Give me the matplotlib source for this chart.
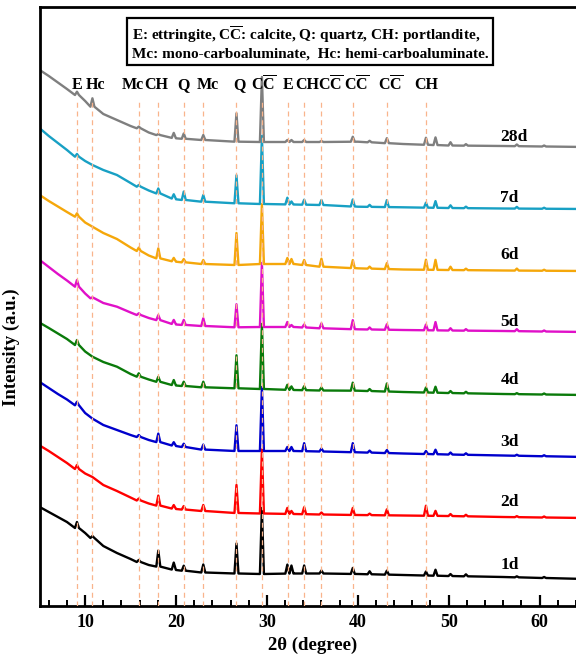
import numpy as np
import matplotlib
matplotlib.use("Agg")
import matplotlib.pyplot as plt
from matplotlib.ticker import MultipleLocator, NullLocator

plt.rcParams['font.family'] = ['Liberation Serif', 'DejaVu Serif']
plt.rcParams['font.weight'] = 'bold'
plt.rcParams['mathtext.fontset'] = 'custom'
plt.rcParams['mathtext.rm'] = 'Liberation Serif:bold'
plt.rcParams['mathtext.bf'] = 'Liberation Serif:bold'

# ---------------- data ----------------
series_names = ['1d', '2d', '3d', '4d', '5d', '6d', '7d', '28d']
series_colors = ['#000000', '#ff0000', '#0000cc', '#0a7a0a', '#e010c8', '#f5a70a', '#18a0c4', '#7f7f7f']
offsets = [27, 88, 149, 211, 274, 335, 397, 459]

bg_theta = [5, 6, 7, 8, 9.1, 10, 10.8, 12, 13.5, 15, 15.9, 17, 18, 20, 23, 26.7, 29.5, 33, 36, 40, 45, 50, 56, 65]
bg_1d = [72, 67, 62, 57, 51, 46, 41, 33, 26, 20, 17, 14, 12.5, 9, 6.5, 5.5, 5, 5.5, 5.5, 5, 4, 3, 2, 0]
bg_2d = [72.5, 67, 61, 55, 49, 44.5, 41, 33, 27, 20.5, 17.5, 14.5, 12.5, 9, 7, 5, 4.5, 4, 3.5, 3, 2.5, 2, 1, 0]
bg_3d = [75, 69, 63, 57.5, 51.7, 44, 38.4, 32, 27, 22, 20, 17, 15, 11, 7.4, 6, 6, 6, 5.5, 4.7, 3.5, 2.5, 1.5, 0]
bg_4d = [72.3, 67, 61.5, 56, 50, 43.5, 38.3, 33, 28.3, 21, 18.3, 15.5, 13.3, 9.5, 7.7, 6.7, 6, 5, 4.5, 4.3, 3, 2, 1, 0]
bg_5d = [72, 65, 58, 51.5, 45.3, 38.5, 33.7, 29, 25.3, 19.5, 17, 14, 12, 7.5, 6, 4.7, 5, 5, 3.7, 2.7, 2, 1.5, 1, 0]
bg_6d = [76, 70, 64.5, 59, 54.3, 48.5, 44.3, 38, 32, 23.5, 20, 15.5, 12.7, 9.3, 7, 6, 7, 7, 4.3, 2.7, 1.5, 1, 0.5, 0]
bg_7d = [80.7, 73, 66, 59, 52.3, 48, 44, 39, 34, 26, 22.3, 18.5, 15.7, 9.7, 7.3, 5.7, 5, 4.5, 4, 2.3, 1.7, 1, 0.5, 0]
bg_28d = [77, 71, 64.5, 58, 52, 46, 40.3, 33, 27, 21, 18.7, 14.5, 12, 8.7, 7, 5.3, 5, 5, 5, 5.3, 3, 1.5, 1, 0]
backgrounds = [bg_1d, bg_2d, bg_3d, bg_4d, bg_5d, bg_6d, bg_7d, bg_28d]

peak_theta = [9.1, 10.8, 15.9, 18.05, 19.75, 20.85, 23.0, 26.65, 29.45, 32.25, 32.7, 34.1,
              36.0, 39.45, 41.3, 43.2, 47.5, 48.55, 50.2, 51.9, 57.5, 60.5]
pk_1d = [6, 2, 2, 16, 7, 5, 8, 30, 66, 9, 8, 8, 3, 6, 3, 4, 4, 6, 2, 2, 1, 1]
pk_2d = [4, 0, 2, 10, 3.5, 3.5, 6, 28, 64, 6, 3, 7, 2, 7, 1.5, 6, 10, 5, 2, 1.5, 1, 1]
pk_3d = [3.5, 0, 2, 8.5, 3.3, 3.3, 5, 25.7, 64, 4, 4, 8, 3, 9, 2, 3, 3, 4.5, 2, 1.5, 1, 1]
pk_4d = [5, 0, 3.4, 5, 5, 4.3, 5.6, 33, 65, 5, 3.5, 4, 3, 8, 2, 8, 5, 6, 2, 1.5, 1, 1]
pk_5d = [6.7, 1, 1.7, 5, 4, 5, 7.7, 23, 64, 5, 2, 3, 5, 9, 2, 5.5, 5.7, 8.3, 2.3, 1.5, 2, 1]
pk_6d = [3.4, 0, 3.4, 10, 3.4, 3.3, 4, 32, 60, 6, 5, 5, 8, 8, 2, 6, 10, 10, 3.3, 1.5, 2, 1]
pk_7d = [2.7, 0, 1.7, 5, 4.3, 8.4, 6.7, 28, 68, 6.7, 3, 5, 5, 7, 2, 7, 5, 6.7, 2.7, 1.5, 1.7, 1]
pk_28d = [3.3, 8.4, 1.7, 1, 5, 5.3, 5, 28.4, 65, 2, 2, 2, 1, 5, 1.5, 5, 7, 7.7, 3.3, 1.5, 1.7, 1]
peaks = [pk_1d, pk_2d, pk_3d, pk_4d, pk_5d, pk_6d, pk_7d, pk_28d]

ref_lines = [9.1, 10.8, 15.9, 18.05, 20.85, 23.0, 26.65, 29.45, 32.3, 34.1, 36.0, 39.45, 43.2, 47.5]
CC = r'C$\overline{\rm C}$'
ref_labels = ['E', 'Hc', 'Mc', 'CH', 'Q', 'Mc', 'Q', CC, 'E', 'CH', CC, CC, CC, 'CH']
ref_label_x = [9.07, 11.1, 15.2, 17.8, 20.87, 23.5, 26.95, 29.6, 32.3, 34.4, 37.0, 39.9, 43.6, 47.55]

legend_text = ('E: ettringite, ' + CC + ': calcite, Q: quartz, CH: portlandite,\n'
               'Mc: mono-carboaluminate,  Hc: hemi-carboaluminate.')

# ---------------- figure ----------------
W, H = 576, 663
fig = plt.figure(figsize=(W / 100, H / 100), dpi=100)
ax_left, ax_right, ax_top, ax_bot = 39.7, 585.0, 7.0, 606.0
ax = fig.add_axes([ax_left / W, (H - ax_bot) / H, (ax_right - ax_left) / W, (ax_bot - ax_top) / H])
ax.set_xlim(5, 65)
ax.set_ylim(0, ax_bot - ax_top)

half_w = 0.22
for name, col, off, bg, pk in zip(series_names, series_colors, offsets, backgrounds, peaks):
    bx = np.array(bg_theta, float)
    by = np.array(bg, float)
    keep = np.ones(len(bx), bool)
    for p, h in zip(peak_theta, pk):
        if h > 0:
            keep &= np.abs(bx - p) > half_w
    xs = list(bx[keep])
    ys = list(by[keep])
    for p, h in zip(peak_theta, pk):
        if h <= 0:
            continue
        b = np.interp(p, bx, by)
        xs += [p - half_w, p, p + half_w]
        ys += [b, b + h, b]
    order = np.argsort(xs)
    xs = np.array(xs)[order]
    ys = np.array(ys)[order] + off
    ax.plot(xs, ys, color=col, lw=1.7, zorder=2, solid_joinstyle='round')

label_y = [41, 104.3, 164.3, 226, 284.3, 351, 407.7, 469.3]
for name, ly in zip(series_names, label_y):
    ax.text(55.7, ly, name, fontsize=12.5, fontweight='bold', ha='left', va='center', zorder=4)

for x in ref_lines:
    ax.plot([x, x], [0, 505], color='#f9b48c', lw=0.9, ls=(0, (4, 3)), zorder=3)

for lab, lx in zip(ref_labels, ref_label_x):
    ax.text(lx, 521, lab, fontsize=11.5, fontweight='bold', ha='center', va='center', zorder=4)

ax.text(0.4957, 0.9407, legend_text, transform=ax.transAxes, fontsize=11, fontweight='bold',
        ha='center', va='center', multialignment='left', linespacing=1.2,
        bbox=dict(boxstyle='square,pad=0.3', fc='white', ec='black', lw=1.6), zorder=5)

ax.xaxis.set_major_locator(MultipleLocator(10))
ax.xaxis.set_minor_locator(MultipleLocator(2))
ax.yaxis.set_major_locator(NullLocator())
ax.yaxis.set_minor_locator(NullLocator())
ax.tick_params(axis='x', which='major', direction='in', length=8, width=1.6, labelsize=13, pad=6)
ax.tick_params(axis='x', which='minor', direction='in', length=4.5, width=1.4)
for lab in ax.get_xticklabels():
    lab.set_fontweight('bold')
for sp in ['left', 'bottom', 'top']:
    ax.spines[sp].set_linewidth(2.0)
ax.spines['right'].set_visible(False)

ax.set_xlabel('2θ (degree)', fontsize=13.5, fontweight='bold', labelpad=4)
ax.set_ylabel('Intensity (a.u.)', fontsize=13.5, fontweight='bold')
ax.yaxis.set_label_coords(-0.036, 0.432)

fig.savefig('out.png', dpi=100)
